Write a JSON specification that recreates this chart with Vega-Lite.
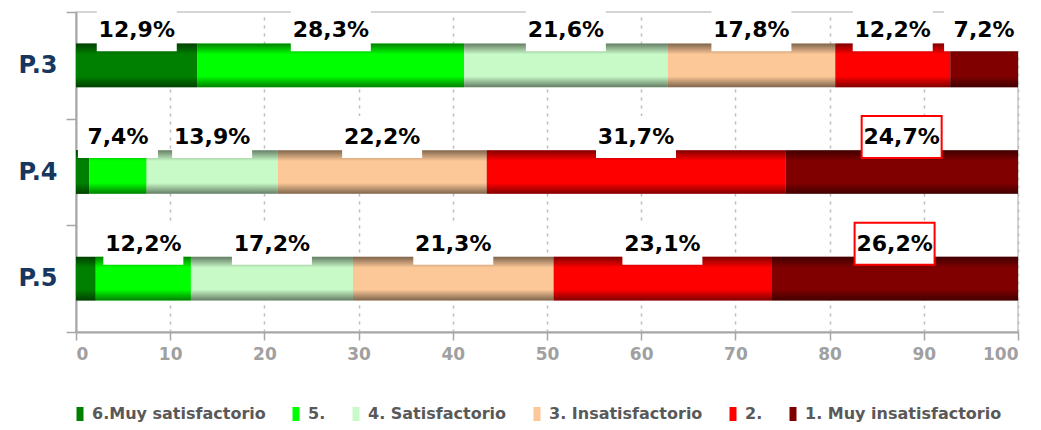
{
  "$schema": "https://vega.github.io/schema/vega-lite/v6.json",
  "width": 942,
  "height": 320,
  "autosize": {"type": "none"},
  "padding": {"left": 76, "top": 12, "right": 23, "bottom": 98},
  "background": "white",
  "config": {
    "view": {"stroke": "#c8c8c8", "strokeWidth": 1.5},
    "axisX": {
      "grid": true, "gridColor": "#bdbdbd", "gridDash": [3, 5], "gridWidth": 1.5,
      "domainColor": "#a6a6a6", "domainWidth": 2,
      "tickColor": "#a6a6a6", "tickSize": 8, "tickWidth": 1.5,
      "labelFont": "DejaVu Sans", "labelFontWeight": "bold", "labelFontSize": 17,
      "labelColor": "#a0a0a0", "labelPadding": 6
    },
    "axisY": {
      "grid": false, "domainColor": "#a6a6a6", "domainWidth": 2,
      "tickColor": "#a6a6a6", "tickSize": 10, "tickWidth": 1.5, "tickBand": "extent",
      "labelFont": "DejaVu Sans", "labelFontWeight": "bold", "labelFontSize": 24,
      "labelColor": "#17375e", "labelPadding": 9
    }
  },
  "data": {
    "values": [
      {"pregunta": "P.3", "categoria": "6.Muy satisfactorio", "orden": 1, "porcentaje": 12.9, "etiqueta": "12,9%", "destacado": false},
      {"pregunta": "P.3", "categoria": "5.", "orden": 2, "porcentaje": 28.3, "etiqueta": "28,3%", "destacado": false},
      {"pregunta": "P.3", "categoria": "4. Satisfactorio", "orden": 3, "porcentaje": 21.6, "etiqueta": "21,6%", "destacado": false},
      {"pregunta": "P.3", "categoria": "3. Insatisfactorio", "orden": 4, "porcentaje": 17.8, "etiqueta": "17,8%", "destacado": false},
      {"pregunta": "P.3", "categoria": "2.", "orden": 5, "porcentaje": 12.2, "etiqueta": "12,2%", "destacado": false},
      {"pregunta": "P.3", "categoria": "1. Muy insatisfactorio", "orden": 6, "porcentaje": 7.2, "etiqueta": "7,2%", "destacado": false},
      {"pregunta": "P.4", "categoria": "6.Muy satisfactorio", "orden": 1, "porcentaje": 1.4, "etiqueta": "", "destacado": false},
      {"pregunta": "P.4", "categoria": "5.", "orden": 2, "porcentaje": 6.1, "etiqueta": "7,4%", "destacado": false},
      {"pregunta": "P.4", "categoria": "4. Satisfactorio", "orden": 3, "porcentaje": 13.9, "etiqueta": "13,9%", "destacado": false},
      {"pregunta": "P.4", "categoria": "3. Insatisfactorio", "orden": 4, "porcentaje": 22.2, "etiqueta": "22,2%", "destacado": false},
      {"pregunta": "P.4", "categoria": "2.", "orden": 5, "porcentaje": 31.7, "etiqueta": "31,7%", "destacado": false},
      {"pregunta": "P.4", "categoria": "1. Muy insatisfactorio", "orden": 6, "porcentaje": 24.7, "etiqueta": "24,7%", "destacado": true},
      {"pregunta": "P.5", "categoria": "6.Muy satisfactorio", "orden": 1, "porcentaje": 2.1, "etiqueta": "", "destacado": false},
      {"pregunta": "P.5", "categoria": "5.", "orden": 2, "porcentaje": 10.1, "etiqueta": "12,2%", "destacado": false},
      {"pregunta": "P.5", "categoria": "4. Satisfactorio", "orden": 3, "porcentaje": 17.2, "etiqueta": "17,2%", "destacado": false},
      {"pregunta": "P.5", "categoria": "3. Insatisfactorio", "orden": 4, "porcentaje": 21.3, "etiqueta": "21,3%", "destacado": false},
      {"pregunta": "P.5", "categoria": "2.", "orden": 5, "porcentaje": 23.1, "etiqueta": "23,1%", "destacado": false},
      {"pregunta": "P.5", "categoria": "1. Muy insatisfactorio", "orden": 6, "porcentaje": 26.2, "etiqueta": "26,2%", "destacado": true}
    ]
  },
  "encoding": {
    "y": {
      "field": "pregunta", "type": "nominal", "sort": ["P.3", "P.4", "P.5"],
      "scale": {"paddingInner": 0, "paddingOuter": 0},
      "title": null
    },
    "x": {
      "field": "porcentaje", "type": "quantitative", "stack": "zero",
      "scale": {"domain": [0, 100], "nice": false},
      "axis": {"values": [0, 10, 20, 30, 40, 50, 60, 70, 80, 90, 100]},
      "title": null
    },
    "order": {"field": "orden", "type": "quantitative"}
  },
  "layer": [
    {
      "mark": {"type": "bar", "height": {"band": 0.41}},
      "encoding": {
        "color": {
          "field": "categoria", "type": "nominal",
          "scale": {
            "domain": ["6.Muy satisfactorio", "5.", "4. Satisfactorio", "3. Insatisfactorio", "2.", "1. Muy insatisfactorio"],
            "range": ["#008000", "#00ff00", "#c8fac8", "#fcc898", "#ff0000", "#800000"]
          },
          "legend": {
            "orient": "none", "legendX": -4, "legendY": 394, "direction": "horizontal",
            "title": null, "labelLimit": 0,
            "symbolType": "M-0.5,-1H0.5V1H-0.5Z", "symbolSize": 196, "symbolStrokeWidth": 0,
            "labelFont": "DejaVu Sans", "labelFontWeight": "bold", "labelFontSize": 16,
            "labelColor": "#595959", "columnPadding": 22, "labelOffset": 4
          }
        }
      }
    },
    {
      "mark": {
        "type": "bar", "height": {"band": 0.41},
        "fill": {
          "gradient": "linear", "x1": 0, "y1": 0, "x2": 0, "y2": 1,
          "stops": [
            {"offset": 0, "color": "rgba(0,0,0,0.5)"},
            {"offset": 0.25, "color": "rgba(0,0,0,0)"},
            {"offset": 0.75, "color": "rgba(0,0,0,0)"},
            {"offset": 1, "color": "rgba(0,0,0,0.5)"}
          ]
        }
      }
    },
    {
      "mark": {
        "type": "point", "shape": "M-1,-0.525H1V0.525H-1Z", "size": 6400,
        "filled": true, "fill": "white", "strokeWidth": 2, "yOffset": -35
      },
      "encoding": {
        "x": {"field": "porcentaje", "type": "quantitative", "stack": "zero", "bandPosition": 0.5},
        "stroke": {"condition": {"test": "datum.destacado", "value": "#ff0000"}, "value": "transparent"},
        "opacity": {"condition": {"test": "datum.etiqueta === ''", "value": 0}, "value": 1}
      }
    },
    {
      "mark": {
        "type": "text", "font": "DejaVu Sans", "fontWeight": "bold", "fontSize": 22,
        "color": "black", "baseline": "middle", "align": "center", "yOffset": -35
      },
      "encoding": {
        "x": {"field": "porcentaje", "type": "quantitative", "stack": "zero", "bandPosition": 0.5},
        "text": {"field": "etiqueta"}
      }
    }
  ]
}
